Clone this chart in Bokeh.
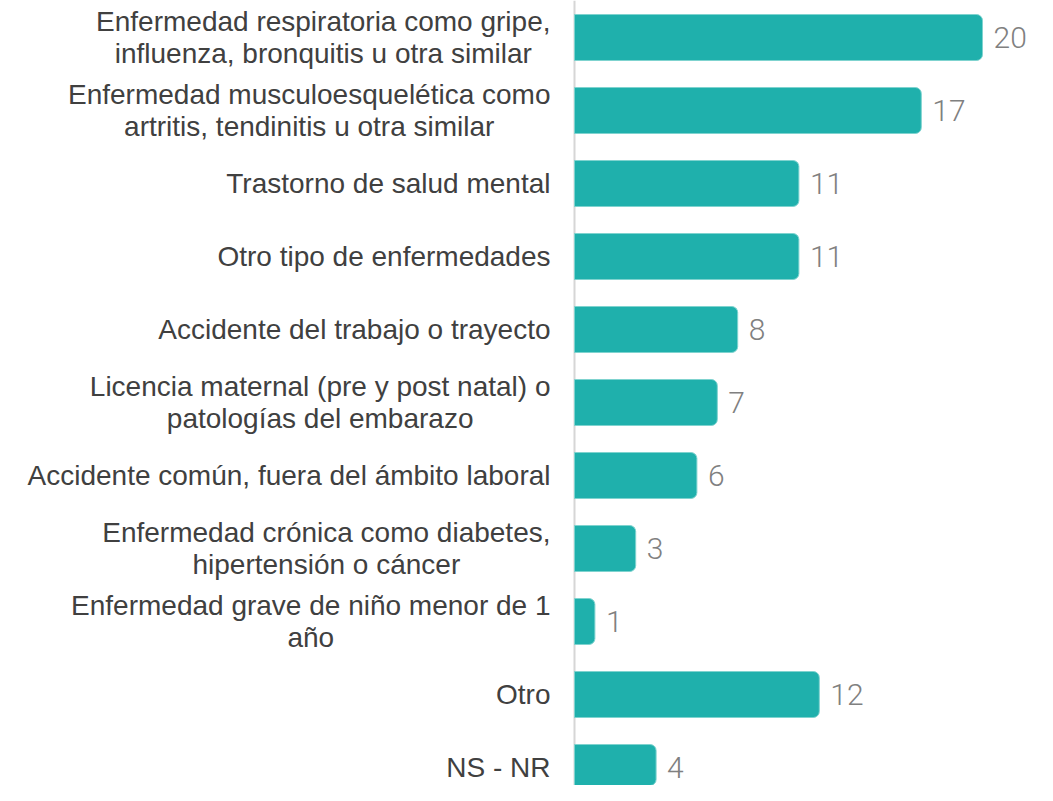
from bokeh.plotting import figure
from bokeh.models import ColumnDataSource, Range1d, Span
from bokeh.core.properties import value
from bokeh.embed import file_html
from bokeh.resources import INLINE

categories = [
    "Enfermedad respiratoria como gripe,\ninfluenza, bronquitis u otra similar",
    "Enfermedad musculoesquelética como\nartritis, tendinitis u otra similar",
    "Trastorno de salud mental",
    "Otro tipo de enfermedades",
    "Accidente del trabajo o trayecto",
    "Licencia maternal (pre y post natal) o\npatologías del embarazo",
    "Accidente común, fuera del ámbito laboral",
    "Enfermedad crónica como diabetes,\nhipertensión o cáncer",
    "Enfermedad grave de niño menor de 1\naño",
    "Otro",
    "NS - NR",
]
values = [20, 17, 11, 11, 8, 7, 6, 3, 1, 12, 4]

W, H = 1037, 785
axis_px = 574          # pixel position of the zero line inside the figure
px_per_unit = 20.4
row_px = 73.0
first_row_px = 37

src = ColumnDataSource(dict(
    y=list(range(len(categories))),
    value=values,
    label=categories,
    vtext=[str(v) for v in values],
))

p = figure(
    width=W, height=H,
    output_backend="svg", toolbar_location=None,
    x_range=Range1d(-axis_px / px_per_unit, (W - axis_px) / px_per_unit),
    y_range=Range1d(-first_row_px / row_px + H / row_px, -first_row_px / row_px),
    min_border=0,
)
p.xaxis.visible = False
p.yaxis.visible = False
p.xgrid.visible = False
p.ygrid.visible = False
p.outline_line_color = None
p.background_fill_color = "white"

p.add_layout(Span(location=0, dimension="height", line_color="#d6d6d6",
                  line_width=2, level="underlay"))

p.hbar(y="y", left=0, right="value", height=46 / row_px, source=src,
       fill_color="#1FB0AC", line_color="#7fd3cf", line_width=1,
       border_radius=(0, 6, 6, 0))

p.text(x=0, y="y", text="label", source=src, x_offset=-24,
       anchor=value("center_right"), text_align="center", text_baseline="middle",
       text_font=value("Liberation Sans"), text_font_size="28px",
       text_color="#404040", text_line_height=1.05)

p.text(x="value", y="y", text="vtext", source=src, x_offset=11,
       text_align="left", text_baseline="middle",
       text_font=value("Roboto Light"), text_font_size="30px",
       text_color="#808080")

open("out.html", "w").write(file_html(p, INLINE))
